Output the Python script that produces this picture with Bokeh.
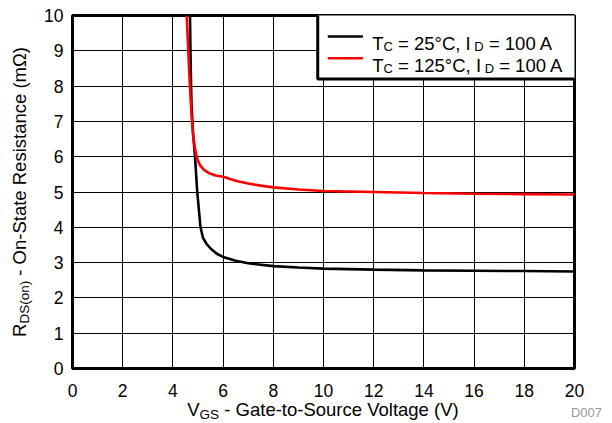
from bokeh.plotting import figure
from bokeh.models import Range1d, FixedTicker, Label, Div
from bokeh.layouts import column, row
from bokeh.embed import file_html
from bokeh.resources import INLINE

# ---- data ----
vgs_25 = [4.68, 4.71, 4.74, 4.80, 4.88, 4.97, 5.10, 5.20, 5.35, 5.50, 5.75, 6.0, 6.5, 7.0, 8.0, 9.0,
          10.0, 12.0, 14.0, 16.0, 18.0, 20.0]
rds_25 = [10.0, 8.5, 7.5, 6.7, 6.0, 5.0, 4.0, 3.7, 3.52, 3.40, 3.25, 3.16, 3.05, 2.98, 2.90, 2.86,
          2.83, 2.80, 2.78, 2.77, 2.76, 2.75]
vgs_125 = [4.55, 4.60, 4.65, 4.70, 4.75, 4.80, 4.86, 4.93, 5.00, 5.10, 5.25, 5.45, 5.70, 6.0, 6.5,
           7.0, 7.5, 8.0, 9.0, 10.0, 12.0, 14.0, 16.0, 18.0, 20.0]
rds_125 = [10.0, 9.2, 8.4, 7.7, 7.1, 6.65, 6.3, 6.05, 5.88, 5.74, 5.62, 5.53, 5.47, 5.43, 5.32,
           5.24, 5.18, 5.13, 5.07, 5.03, 5.00, 4.97, 4.95, 4.94, 4.93]
x_ticks = [0, 2, 4, 6, 8, 10, 12, 14, 16, 18, 20]
y_ticks = [0, 1, 2, 3, 4, 5, 6, 7, 8, 9, 10]
series_colors = ["black", "#ff0000"]

legend_rows = [
    [("T", False), ("C", True), (" = 25°C, I", False), (" D", True), (" = 100 A", False)],
    [("T", False), ("C", True), (" = 125°C, I", False), (" D", True), (" = 100 A", False)],
]

FONT = "Liberation Sans"

# legend geometry (layout, in data units of the frame)
LEG_BOX = dict(left=9.77, right=20.3, bottom=8.2, top=10.3)
LEG_SWATCH_X = (10.17, 11.57)
LEG_SWATCH_Y = [9.405, 8.79]

# Arial / Liberation Sans advance widths (per 1000 em)
W = {' ': 278, '-': 333, '(': 333, ')': 333, ',': 278, '=': 584, '°': 400,
     'A': 667, 'C': 722, 'D': 722, 'I': 278, 'T': 611}


def tw(s, fs):
    return sum(W.get(c, 556) for c in s) * fs / 1000.0


p = figure(width=572, height=404, output_backend="svg", toolbar_location=None,
           x_range=Range1d(0, 20), y_range=Range1d(0, 10),
           min_border_left=32, min_border_right=38, min_border_top=15, min_border_bottom=36)
p.background_fill_color = "white"
p.border_fill_color = "white"
p.outline_line_color = "black"
p.outline_line_width = 3

for ax, ticks in ((p.xaxis, x_ticks), (p.yaxis, y_ticks)):
    ax.ticker = FixedTicker(ticks=ticks)
    ax.axis_line_color = None
    ax.major_tick_line_color = None
    ax.minor_tick_line_color = None
    ax.major_tick_out = 0
    ax.major_tick_in = 0
    ax.major_label_text_font = FONT
    ax.major_label_text_font_size = "17.5px"
    ax.major_label_text_color = "black"
p.xaxis.major_label_standoff = 15
p.yaxis.major_label_standoff = 9

p.xgrid.ticker = FixedTicker(ticks=x_ticks)
p.ygrid.ticker = FixedTicker(ticks=y_ticks)
p.grid.grid_line_color = "black"
p.grid.grid_line_alpha = 1
p.grid.grid_line_width = 1

# legend box and swatches
p.quad(fill_color="white", line_color="black", line_width=3, **LEG_BOX)
p.segment(x0=[LEG_SWATCH_X[0]] * 2, x1=[LEG_SWATCH_X[1]] * 2, y0=LEG_SWATCH_Y, y1=LEG_SWATCH_Y,
          line_color=series_colors, line_width=2.6)

p.line(vgs_25, rds_25, line_color=series_colors[0], line_width=2.6)
p.line(vgs_125, rds_125, line_color=series_colors[1], line_width=2.6)


def rich(pieces, x, y, x_off, y_off, fs_main, fs_sub, sub_shift):
    pos = 0.0
    for text, sub in pieces:
        fs = fs_sub if sub else fs_main
        stripped = text.lstrip(' ')
        pos += tw(text[:len(text) - len(stripped)], fs)
        lab = Label(x=x, y=y, x_offset=x_off + pos, y_offset=y_off - (sub_shift if sub else 0.0),
                    text=stripped, text_font=FONT, text_font_size="%gpx" % fs,
                    text_color="black", text_align="left", text_baseline="alphabetic")
        p.add_layout(lab)
        pos += tw(stripped, fs)


# legend texts (anchored at the frame's top-right corner)
for i, r in enumerate(legend_rows):
    rich(r, 20, 10, -202.3, -28.0 - 21.6 * i, 18.5, 13, 3)

FONT_CSS = "font-family:'Liberation Sans',Arial,sans-serif;color:#000;white-space:nowrap;"

y_html = (
    '<div style="position:relative;width:40px;height:404px;">'
    '<span style="position:absolute;left:10.8px;top:191.5px;font-size:18.5px;line-height:18.5px;'
    + FONT_CSS +
    'transform-origin:0 0;transform:rotate(-90deg) translateX(-50%);">'
    'R<span style="font-size:13.5px;position:relative;top:3px;">DS(on)</span>'
    ' - On-State Resistance (m&Omega;)</span></div>'
)
x_html = (
    '<div style="position:relative;width:612px;height:19px;">'
    '<span style="position:absolute;left:323px;top:0px;font-size:18.5px;line-height:12px;'
    + FONT_CSS +
    'transform:translateX(-50%);">'
    'V<span style="font-size:13.5px;position:relative;top:3px;">GS</span>'
    ' - Gate-to-Source Voltage (V)</span>'
    '<span style="position:absolute;right:10px;top:2px;font-size:13px;line-height:13px;'
    "font-family:'Liberation Sans',Arial,sans-serif;color:#9a9a9a;\">D007</span></div>"
)

ydiv = Div(text=y_html, width=40, height=404, margin=0, styles={"overflow": "visible"})
xdiv = Div(text=x_html, width=612, height=19, margin=0, styles={"overflow": "visible"})

layout = column(row(ydiv, p), xdiv)

open("out.html", "w").write(file_html(layout, INLINE))
